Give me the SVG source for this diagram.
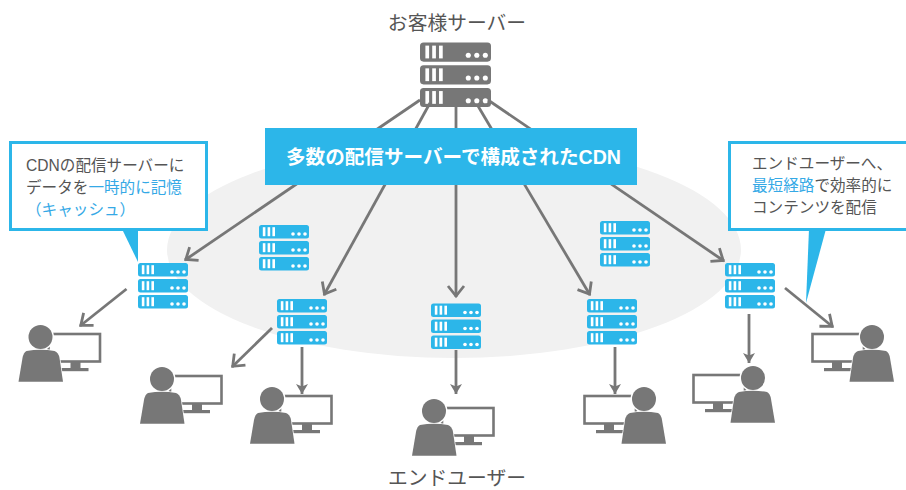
<svg xmlns="http://www.w3.org/2000/svg" xmlns:xlink="http://www.w3.org/1999/xlink" width="906" height="490" viewBox="0 0 906 490">
<style>
text{font-family:"Liberation Sans","Noto Sans CJK JP",sans-serif;fill:#555}
.lab{font-size:19.8px}
.call{font-size:15.6px}
.hl{fill:#35a9e6}
.ban{font-size:19.6px;font-weight:700;fill:#fff}
.con{fill:none;stroke:#777;stroke-width:2.8}
.box{fill:#fff;stroke:#2cb6e9;stroke-width:3}
.tail{fill:#2cb6e9}
.blue{fill:#2cb6e9}
.gray{fill:#777}
.w{fill:#fff}
</style>
<defs>
<marker id="chev" markerUnits="userSpaceOnUse" markerWidth="24" markerHeight="24" refX="15" refY="12" orient="auto" viewBox="0 0 24 24"><path d="M4,4 L14,12 L4,20" fill="none" stroke="#777" stroke-width="2.8"/></marker>
<marker id="tri" markerUnits="userSpaceOnUse" markerWidth="24" markerHeight="24" refX="14" refY="12" orient="auto" viewBox="0 0 24 24"><path d="M4,6 L14,12 L4,18 L6.500,12 Z" fill="#777"/></marker>
<g id="row"><rect class="w" x="3.800" y="2.200" width="2.600" height="9"/><rect class="w" x="8.600" y="2.200" width="2.600" height="9"/><rect class="w" x="13.400" y="2.200" width="2.600" height="9"/><circle class="w" cx="34" cy="9" r="1.800"/><circle class="w" cx="40" cy="9" r="1.800"/><circle class="w" cx="46" cy="9" r="1.800"/></g>
<g id="srv"><rect width="50" height="13.500" rx="2.500"/><rect y="16" width="50" height="13.500" rx="2.500"/><rect y="32" width="50" height="13.500" rx="2.500"/><use xlink:href="#row" href="#row"/><use xlink:href="#row" href="#row" y="16"/><use xlink:href="#row" href="#row" y="32"/></g>
<g id="user"><rect x="8" y="-3" width="51.500" height="27.500" fill="none" stroke="#777" stroke-width="2.600"/><rect x="30" y="25" width="10" height="7" fill="#777"/><rect x="16" y="31" width="32" height="3.200" fill="#777"/><circle cx="0" cy="0" r="13.500" fill="#fff"/><circle cx="0" cy="0" r="12" fill="#777"/><path d="M-14,14 Q0,11.500 14,14 Q18,15.500 19,21 L22.500,44.800 L-22,44.800 L-18,21 Q-17,15.500 -14,14 Z" fill="#777" stroke="#fff" stroke-width="1.500" paint-order="stroke"/></g>
</defs>
<ellipse cx="454" cy="250" rx="287" ry="108" fill="#f1f1f1"/>
<text class="lab" x="457" y="29.500" text-anchor="middle">お客様サーバー</text>
<g id="origin"><use xlink:href="#srv" href="#srv" class="gray" transform="translate(420,42.500) scale(1.42)"/></g>
<g id="connectors">
<path class="con" d="M420,100 L185,260" marker-end="url(#chev)"/>
<path class="con" d="M430,103 L324,295" marker-end="url(#chev)"/>
<path class="con" d="M456,97 L456,297" marker-end="url(#chev)"/>
<path class="con" d="M478,106 L590,295" marker-end="url(#chev)"/>
<path class="con" d="M488,100 L724,261" marker-end="url(#chev)"/>
<path class="con" d="M126.500,289 L80,326" marker-end="url(#chev)"/>
<path class="con" d="M272,328 L232,367" marker-end="url(#chev)"/>
<path class="con" d="M302,347 L302,394" marker-end="url(#tri)"/>
<path class="con" d="M456,350 L456,394" marker-end="url(#tri)"/>
<path class="con" d="M615,347 L615,394" marker-end="url(#tri)"/>
<path class="con" d="M749,314 L749,363" marker-end="url(#tri)"/>
<path class="con" d="M785,288 L833,327" marker-end="url(#chev)"/>
</g>
<g id="cdn-banner"><rect x="265" y="128" width="372" height="57" fill="#2cb6e9"/><text class="ban" x="453.500" y="164" text-anchor="middle">多数の配信サーバーで構成されたCDN</text></g>
<g id="edge-1"><use xlink:href="#srv" href="#srv" class="blue" x="138" y="263"/></g>
<g id="edge-2"><use xlink:href="#srv" href="#srv" class="blue" x="277" y="299"/></g>
<g id="edge-3"><use xlink:href="#srv" href="#srv" class="blue" x="431" y="303.500"/></g>
<g id="edge-4"><use xlink:href="#srv" href="#srv" class="blue" x="587" y="299"/></g>
<g id="edge-5"><use xlink:href="#srv" href="#srv" class="blue" x="725" y="263"/></g>
<g id="edge-6"><use xlink:href="#srv" href="#srv" class="blue" x="259" y="225"/></g>
<g id="edge-7"><use xlink:href="#srv" href="#srv" class="blue" x="600" y="221"/></g>
<g id="user-1"><use xlink:href="#user" href="#user" transform="translate(40.500,337)"/></g>
<g id="user-2"><use xlink:href="#user" href="#user" transform="translate(162,379)"/></g>
<g id="user-3"><use xlink:href="#user" href="#user" transform="translate(272,399)"/></g>
<g id="user-4"><use xlink:href="#user" href="#user" transform="translate(434,411)"/></g>
<g id="user-5"><use xlink:href="#user" href="#user" transform="translate(644,399) scale(-1,1)"/></g>
<g id="user-6"><use xlink:href="#user" href="#user" transform="translate(753,378) scale(-1,1)"/></g>
<g id="user-7"><use xlink:href="#user" href="#user" transform="translate(872,337) scale(-1,1)"/></g>
<g id="callout-left"><path class="tail" d="M122,229 L138,262 L138,229 Z"/><rect class="box" x="10.500" y="142.500" width="196" height="87"/>
<text class="call" x="26" y="171">CDNの配信サーバーに</text>
<text class="call" x="26" y="193">データを<tspan class="hl">一時的に記憶</tspan></text>
<text class="call hl" x="26" y="215">（キャッシュ）</text></g>
<g id="callout-right"><path class="tail" d="M809,229 L826,229 L806,303 Z"/><rect class="box" x="729.500" y="142.500" width="190" height="87"/>
<text class="call" x="752" y="169">エンドユーザーへ、</text>
<text class="call" x="752" y="190.500"><tspan class="hl">最短経路</tspan>で効率的に</text>
<text class="call" x="752" y="212.500">コンテンツを配信</text></g>
<text class="lab" x="457" y="484.500" text-anchor="middle">エンドユーザー</text>
</svg>
